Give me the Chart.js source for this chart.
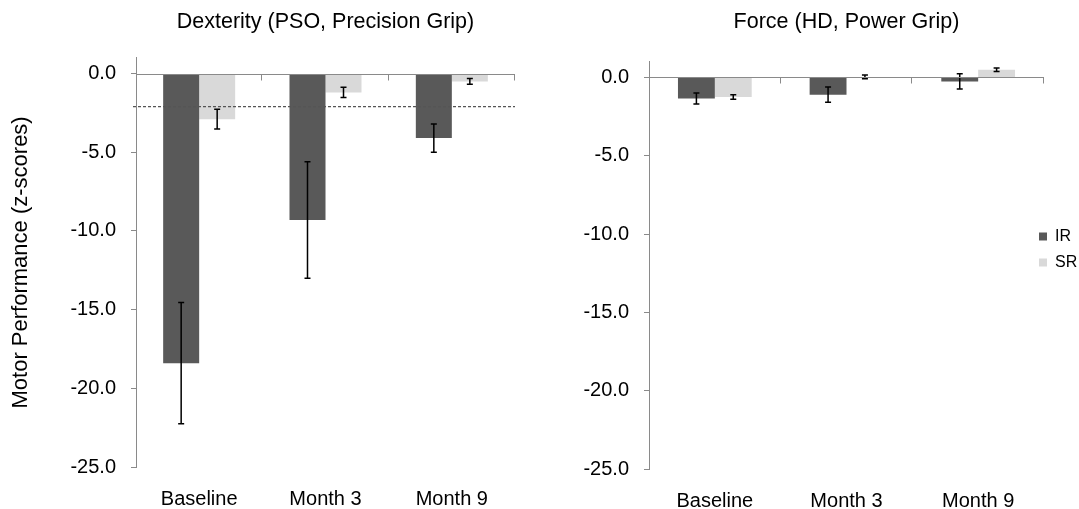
<!DOCTYPE html>
<html>
<head>
<meta charset="utf-8">
<script src="https://cdn.jsdelivr.net/npm/chart.js@4/dist/chart.umd.min.js"></script>
<style>
  body { margin: 0; background: #fff; }
  canvas { position: absolute; top: 0; }
  #graficoDex { left: 0; }
  #graficoForca { left: 540px; }
</style>
</head>
<body>
<canvas id="graficoDex" width="540" height="509"></canvas>
<canvas id="graficoForca" width="539" height="509"></canvas>
<script>
// valores (z-scores), um vetor por serie
var categorias = ['Baseline', 'Month 3', 'Month 9'];

// Dexterity (PSO, Precision Grip)
var dexIR = [-18.4, -9.3, -4.1];
var dexIRErro = [3.85, 3.7, 0.9];
var dexSR = [-2.9, -1.2, -0.5];
var dexSRErro = [0.63, 0.33, 0.18];
var dexCorte = -2.1;

// Force (HD, Power Grip)
var forcaIR = [-1.35, -1.1, -0.25];
var forcaIRErro = [0.35, 0.49, 0.48];
var forcaSR = [-1.25, 0.03, 0.49];
var forcaSRErro = [0.14, 0.12, 0.11];

// eixo y
var yMin = -25;
var yMax = 1;
var yPasso = 5;

var corIR = '#595959';
var corSR = '#d9d9d9';
var corEixo = '#8a8a8a';
var fonte = "'Liberation Sans', Arial, sans-serif";

Chart.defaults.font.family = fonte;
Chart.defaults.color = '#000';

// desenha as barras de erro (simetricas) em cima de cada barra
var barrasErro = {
  id: 'barrasErro',
  afterDatasetsDraw: function (chart) {
    var ctx = chart.ctx;
    var escalaY = chart.scales.y;
    ctx.save();
    ctx.strokeStyle = '#000';
    ctx.lineWidth = 1.5;
    chart.data.datasets.forEach(function (ds, i) {
      var meta = chart.getDatasetMeta(i);
      meta.data.forEach(function (barra, j) {
        var v = ds.data[j];
        var e = ds.erros[j];
        var y1 = escalaY.getPixelForValue(v + e);
        var y2 = escalaY.getPixelForValue(v - e);
        ctx.beginPath();
        ctx.moveTo(barra.x, y1);
        ctx.lineTo(barra.x, y2);
        ctx.moveTo(barra.x - 3, y1);
        ctx.lineTo(barra.x + 3, y1);
        ctx.moveTo(barra.x - 3, y2);
        ctx.lineTo(barra.x + 3, y2);
        ctx.stroke();
      });
    });
    ctx.restore();
  }
};

// linha pontilhada de corte (so no grafico de destreza)
var linhaCorte = {
  id: 'linhaCorte',
  afterDatasetsDraw: function (chart, args, opts) {
    if (opts.valor === undefined) return;
    var ctx = chart.ctx;
    var area = chart.chartArea;
    var y = chart.scales.y.getPixelForValue(opts.valor);
    ctx.save();
    ctx.strokeStyle = '#555';
    ctx.lineWidth = 1.2;
    ctx.setLineDash([3, 2]);
    ctx.beginPath();
    ctx.moveTo(area.left - 3, y);
    ctx.lineTo(area.right, y);
    ctx.stroke();
    ctx.restore();
  }
};

// tracinhos do eixo x (no zero) entre as categorias
var tracosX = {
  id: 'tracosX',
  afterDatasetsDraw: function (chart) {
    var ctx = chart.ctx;
    var area = chart.chartArea;
    var n = chart.data.labels.length;
    var w = (area.right - area.left) / n;
    var y0 = Math.round(chart.scales.y.getPixelForValue(0)) + 0.5;
    ctx.save();
    ctx.strokeStyle = corEixo;
    ctx.lineWidth = 1;
    ctx.beginPath();
    ctx.moveTo(area.left, y0);
    ctx.lineTo(area.right, y0);
    for (var k = 1; k <= n; k++) {
      var x = Math.round(area.left + k * w) - 0.5;
      ctx.moveTo(x, y0);
      ctx.lineTo(x, y0 + 6);
    }
    ctx.stroke();
    ctx.restore();
  }
};

// legenda: puxa um pouco para a esquerda/cima depois do layout
var ajustaLegenda = {
  id: 'ajustaLegenda',
  afterLayout: function (chart, args, opts) {
    var lg = chart.legend;
    if (!lg || !opts.dx) return;
    lg.left += opts.dx;
    lg.right = chart.width;
    lg.width = lg.right - lg.left;
    lg.top += opts.dy;
    lg.bottom += opts.dy;
  }
};

function montaGrafico(id, titulo, ir, irErro, sr, srErro, cfg) {
  var ctx = document.getElementById(id).getContext('2d');
  return new Chart(ctx, {
    type: 'bar',
    data: {
      labels: categorias,
      datasets: [
        {
          label: 'IR',
          data: ir,
          erros: irErro,
          backgroundColor: corIR,
          borderWidth: 0,
          categoryPercentage: cfg.catPerc,
          barPercentage: 1
        },
        {
          label: 'SR',
          data: sr,
          erros: srErro,
          backgroundColor: corSR,
          borderWidth: 0,
          categoryPercentage: cfg.catPerc,
          barPercentage: 1
        }
      ]
    },
    plugins: [barrasErro, linhaCorte, tracosX, ajustaLegenda],
    options: {
      responsive: false,
      animation: false,
      layout: { padding: { left: 0, top: 0, bottom: 0, right: cfg.padDireita } },
      plugins: {
        title: {
          display: true,
          text: titulo,
          fullSize: false,
          color: '#000',
          font: { size: 21.5, weight: 'normal' },
          padding: { top: 9, bottom: cfg.tituloBaixo }
        },
        legend: {
          display: cfg.legenda,
          position: 'right',
          maxWidth: 35,
          labels: {
            boxWidth: 8,
            boxHeight: 8,
            padding: 10,
            color: '#000',
            font: { size: 16 }
          }
        },
        tooltip: { enabled: false },
        linhaCorte: { valor: cfg.corte },
        ajustaLegenda: { dx: -15, dy: -5 }
      },
      scales: {
        x: {
          type: 'category',
          offset: true,
          display: false
        },
        // nomes das categorias embaixo
        x2: {
          type: 'category',
          position: 'bottom',
          offset: true,
          grid: { display: false, drawTicks: false },
          border: { display: false },
          ticks: { color: '#000', font: { size: 20 }, padding: cfg.rotuloPad },
          afterFit: function (s) { s.height = cfg.alturaX; }
        },
        y: {
          min: yMin,
          max: yMax,
          position: 'left',
          ticks: {
            stepSize: yPasso,
            includeBounds: false,
            padding: 15,
            color: '#000',
            font: { size: 20 },
            callback: function (v) { return v.toFixed(1); }
          },
          grid: {
            drawOnChartArea: false,
            drawTicks: true,
            tickLength: 5,
            color: corEixo
          },
          border: { color: corEixo, width: 1 },
          title: {
            display: cfg.tituloY,
            text: 'Motor Performance (z-scores)',
            color: '#000',
            font: { size: 22 },
            padding: { top: 8, bottom: 0 }
          },
          afterFit: function (s) { s.width = cfg.larguraY; }
        }
      }
    }
  });
}

montaGrafico('graficoDex', 'Dexterity (PSO, Precision Grip)', dexIR, dexIRErro, dexSR, dexSRErro, {
  catPerc: 0.57, tituloBaixo: 23, legenda: false, corte: dexCorte, padDireita: 25,
  rotuloPad: 20, alturaX: 42, larguraY: 136, tituloY: true
});

montaGrafico('graficoForca', 'Force (HD, Power Grip)', forcaIR, forcaIRErro, forcaSR, forcaSRErro, {
  catPerc: 0.56, tituloBaixo: 27, legenda: true, corte: undefined, padDireita: 0,
  rotuloPad: 20, alturaX: 40, larguraY: 109, tituloY: false
});
</script>
</body>
</html>
